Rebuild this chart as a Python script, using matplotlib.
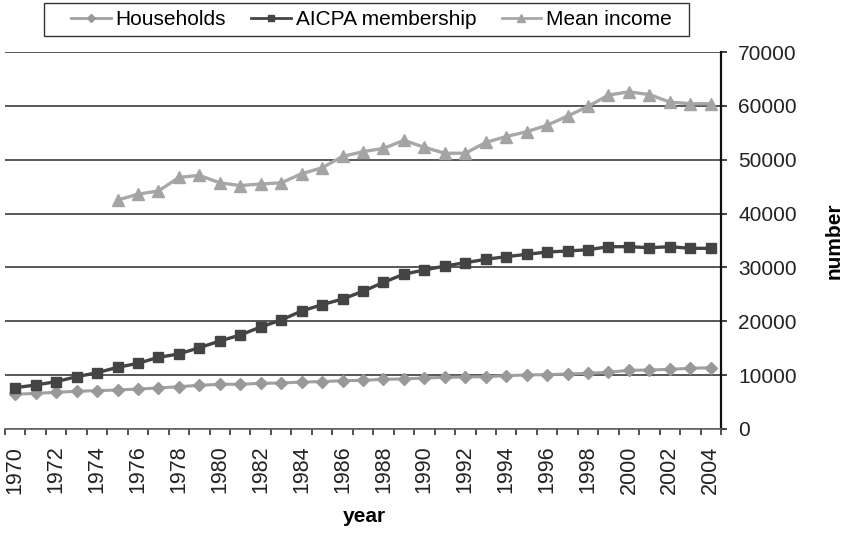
import numpy as np
import matplotlib
matplotlib.use("Agg")
import matplotlib.pyplot as plt
from matplotlib.patches import Rectangle
from matplotlib.ticker import FixedLocator, NullFormatter

plt.rcParams['font.family'] = ['Liberation Sans', 'DejaVu Sans']

years = list(range(1970, 2005))

households = [6440, 6620, 6810, 7000, 7120, 7240, 7430, 7610, 7860, 8110,
              8300, 8300, 8480, 8540, 8730, 8790, 8970, 9040, 9220, 9300,
              9470, 9590, 9650, 9710, 9900, 10030, 10090, 10210, 10340, 10530,
              10900, 10950, 11080, 11270, 11380]

aicpa = [7670, 8170, 8790, 9710, 10450, 11450, 12190, 13310, 13930, 15100,
         16340, 17450, 18940, 20240, 21910, 23080, 24140, 25560, 27230, 28750,
         29520, 30260, 30880, 31510, 32000, 32430, 32860, 33050, 33290, 33850,
         33850, 33660, 33850, 33550, 33550]

# mean income series starts in 1975
income_years = list(range(1975, 2005))
mean_income = [42500, 43600, 44200, 46700, 47100, 45700, 45200, 45500, 45700, 47400,
               48500, 50600, 51500, 52100, 53600, 52300, 51200, 51200, 53200, 54300,
               55200, 56400, 58100, 59900, 62000, 62600, 62100, 60700, 60400, 60400]

x_all = np.arange(len(years))
x_inc = np.array([years.index(y) for y in income_years])

W, H = 844, 533
fig = plt.figure(figsize=(W / 100, H / 100), dpi=100)
ax = fig.add_axes([5 / W, 1 - 429 / H, 716 / W, 377 / H])

ax.plot(x_all, households, color='#a0a0a0', lw=2.2, marker='D', ms=6,
        mec='#999999', mfc='#999999', label='Households', zorder=3)
ax.plot(x_all, aicpa, color='#444444', lw=2.4, marker='s', ms=7.5,
        mec='#444444', mfc='#444444', label='AICPA membership', zorder=4)
ax.plot(x_inc, mean_income, color='#a8a8a8', lw=2.4, marker='^', ms=8,
        mec='#a4a4a4', mfc='#a4a4a4', label='Mean income', zorder=3)

ax.set_xlim(-0.5, len(years) - 0.5)
ax.set_ylim(0, 70000)

# y axis on the right
ax.yaxis.tick_right()
ax.yaxis.set_label_position('right')
ax.set_yticks(np.arange(0, 70001, 10000))
ax.tick_params(axis='y', which='major', direction='out', length=4.5, width=1.2,
               labelsize=15, pad=8, colors='#222222')
ax.set_ylabel('number', fontsize=15, fontweight='bold', rotation=90)
ax.yaxis.label.set(ha='center', va='center')
ax.yaxis.set_label_coords(1.158, 0.499)

# category ticks at boundaries, year labels centered on every other category
ax.xaxis.set_major_locator(FixedLocator(np.arange(-0.5, len(years), 1.0)))
ax.xaxis.set_major_formatter(NullFormatter())
ax.xaxis.set_minor_locator(FixedLocator(x_all[::2]))
ax.set_xticklabels([str(y) for y in years[::2]], minor=True, rotation=90)
ax.tick_params(axis='x', which='major', direction='out', length=4.5, width=1.2,
               colors='#333333')
ax.tick_params(axis='x', which='minor', length=0, labelsize=15.5, pad=12,
               labelcolor='#222222')
ax.set_xlabel('year', fontsize=15, fontweight='bold')
ax.xaxis.label.set(va='center')
ax.xaxis.set_label_coords(0.502, -0.231)

ax.grid(axis='y', color='#2a2a2a', lw=1.1)
ax.set_axisbelow(True)
for side in ['left', 'top']:
    ax.spines[side].set_visible(False)
ax.spines['right'].set_color('#111111')
ax.spines['right'].set_linewidth(1.6)
ax.spines['bottom'].set_color('#666666')
ax.spines['bottom'].set_linewidth(1.2)

# legend box across the top
fig.patches.append(Rectangle((44 / W, 1 - 36 / H), 645 / W, 33 / H,
                             transform=fig.transFigure, fill=False,
                             edgecolor='#333333', lw=1.0))
leg = fig.legend(loc='center', bbox_to_anchor=(371.5 / W, 1 - 19.5 / H), ncol=3,
                 fontsize=15, frameon=False, handlelength=1.9,
                 handletextpad=0.25, columnspacing=1.2, borderpad=0.0,
                 markerscale=0.65)
for line in leg.get_lines():
    line.set_linewidth(2.0)

fig.savefig('out.png', dpi=100)
